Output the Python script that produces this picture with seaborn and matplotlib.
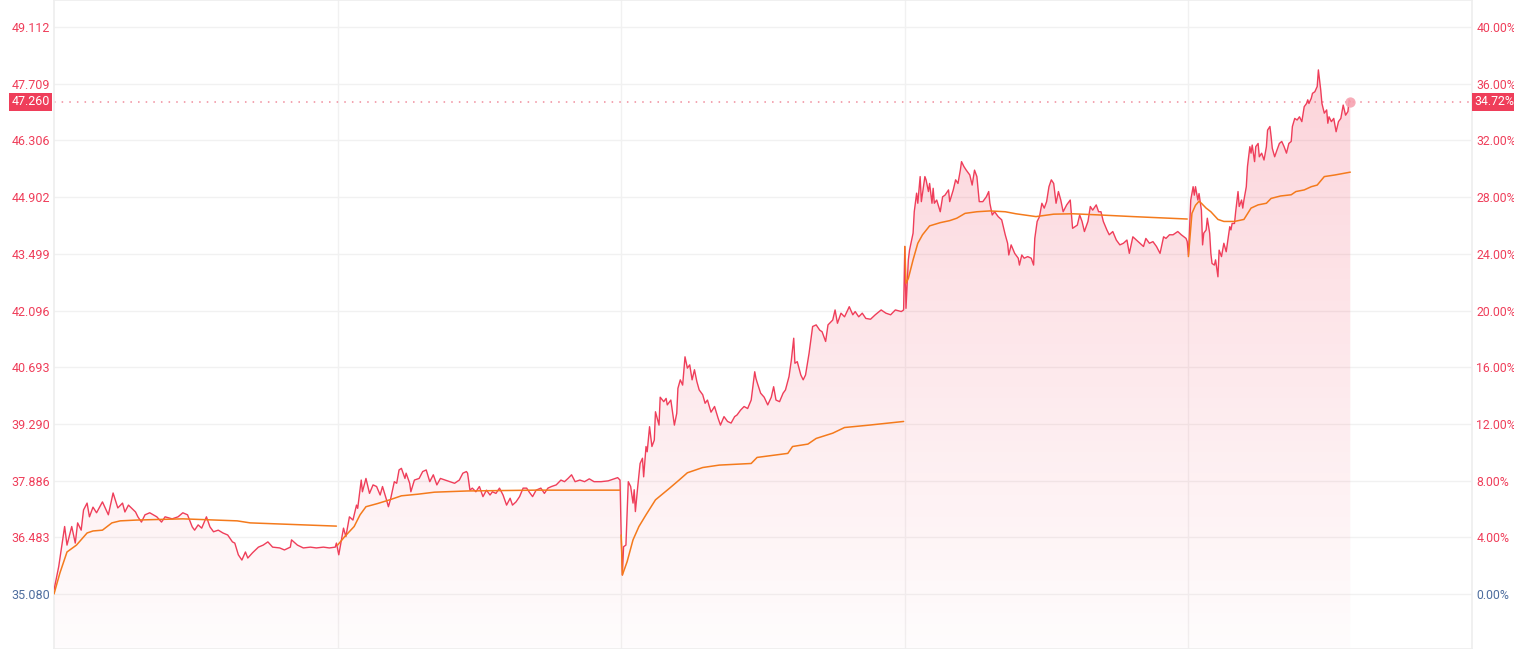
import numpy as np
import pandas as pd
import matplotlib.pyplot as plt
import seaborn as sns
from matplotlib.patches import Polygon
from matplotlib.transforms import blended_transform_factory

# intraday price, (minute of session, price) - 5 sessions
day1_price = [(0, 35.18), (4, 35.76), (9, 36.75), (11, 36.29), (15, 36.75), (18, 36.34), (20, 36.84), (23, 36.66),
              (25, 37.16), (28, 37.33), (30, 36.99), (33, 37.23), (36, 37.09), (41, 37.36), (46, 37.04), (50, 37.58),
              (54, 37.21), (58, 37.33), (60, 37.11), (63, 37.28), (69, 37.11), (71, 36.99), (74, 36.86), (77, 37.04),
              (81, 37.09), (87, 36.99), (91, 36.86), (94, 36.99), (100, 36.94), (105, 36.99), (109, 37.09),
              (113, 37.04), (117, 36.74), (119, 36.66), (122, 36.79), (125, 36.71), (129, 36.99), (132, 36.74),
              (135, 36.62), (139, 36.66), (143, 36.59), (147, 36.54), (151, 36.37), (153, 36.34), (156, 36.05),
              (159, 35.92), (162, 36.12), (164, 35.97), (168, 36.10), (173, 36.24), (177, 36.29), (181, 36.37),
              (185, 36.24), (191, 36.22), (195, 36.17), (200, 36.24), (201, 36.42), (206, 36.29), (211, 36.22),
              (217, 36.24), (222, 36.22), (228, 36.24), (233, 36.22), (238, 36.24), (239, 36.34)]
day2_price = [(0, 36.20), (1, 36.05), (5, 36.71), (7, 36.50), (10, 36.99), (13, 36.91), (16, 37.28), (17, 37.20),
              (20, 37.90), (21, 37.61), (24, 37.94), (27, 37.57), (30, 37.78), (33, 37.74), (36, 37.53), (38, 37.74),
              (41, 37.45), (43, 37.24), (45, 37.45), (48, 37.86), (50, 37.82), (52, 38.15), (54, 38.19), (57, 37.94),
              (58, 38.07), (61, 37.82), (62, 37.61), (65, 37.90), (69, 37.94), (72, 38.11), (75, 38.15), (78, 37.86),
              (81, 38.03), (84, 37.78), (87, 37.94), (91, 37.90), (95, 37.86), (99, 37.82), (103, 37.90),
              (106, 38.07), (109, 38.11), (110, 38.07), (112, 37.65), (114, 37.70), (117, 37.61), (120, 37.74),
              (123, 37.49), (126, 37.65), (129, 37.53), (131, 37.61), (134, 37.57), (137, 37.70), (140, 37.53),
              (143, 37.28), (146, 37.45), (148, 37.28), (151, 37.36), (154, 37.49), (157, 37.70), (160, 37.70),
              (162, 37.61), (165, 37.49), (168, 37.65), (172, 37.70), (175, 37.57), (178, 37.70), (181, 37.74),
              (185, 37.78), (189, 37.90), (192, 37.86), (195, 37.94), (198, 38.03), (201, 37.86), (205, 37.90),
              (209, 37.86), (213, 37.93), (217, 37.86), (223, 37.86), (229, 37.88), (234, 37.93), (237, 37.96),
              (239, 37.90)]
day3_price = [(0, 36.54), (1, 35.55), (2, 36.25), (4, 36.29), (6, 37.86), (8, 37.74), (10, 37.33), (11, 37.66),
              (12, 37.12), (14, 37.74), (16, 38.31), (18, 38.44), (19, 37.98), (21, 38.73), (22, 38.60), (24, 39.22),
              (26, 38.73), (28, 38.89), (29, 39.59), (32, 39.26), (33, 39.95), (36, 39.84), (38, 39.92), (39, 39.76),
              (42, 39.88), (45, 39.26), (47, 39.55), (48, 40.17), (50, 40.38), (52, 40.25), (54, 40.95), (56, 40.67),
              (58, 40.75), (60, 40.38), (62, 40.63), (64, 40.34), (66, 40.13), (69, 40.01), (71, 39.80), (73, 39.88),
              (76, 39.58), (79, 39.72), (82, 39.43), (84, 39.26), (87, 39.47), (90, 39.35), (93, 39.31), (96, 39.47),
              (98, 39.51), (101, 39.63), (104, 39.72), (107, 39.67), (110, 39.88), (113, 40.58), (114, 40.42),
              (115, 40.32), (118, 40.05), (121, 39.95), (124, 39.76), (127, 39.95), (129, 40.21), (131, 39.88),
              (134, 39.84), (137, 40.05), (139, 40.13), (142, 40.46), (144, 40.87), (146, 41.41), (147, 40.79),
              (149, 40.83), (152, 40.50), (154, 40.38), (156, 40.50), (159, 41.04), (162, 41.70), (165, 41.74),
              (168, 41.61), (170, 41.57), (173, 41.33), (175, 41.74), (179, 41.86), (181, 42.11), (183, 41.78),
              (186, 42.03), (189, 41.94), (193, 42.19), (196, 41.99), (198, 42.07), (201, 41.94), (204, 42.03),
              (207, 41.90), (211, 41.88), (215, 41.99), (220, 42.11), (224, 42.03), (228, 41.99), (232, 42.11),
              (237, 42.07), (239, 42.11)]
day4_price = [(0, 43.68), (1, 42.15), (3, 43.35), (4, 43.59), (7, 44.01), (8, 44.54), (10, 45.00), (11, 44.75),
              (13, 45.41), (14, 44.79), (15, 45.00), (17, 45.41), (18, 45.33), (20, 45.04), (21, 45.24), (23, 44.75),
              (24, 45.12), (25, 44.75), (27, 44.83), (30, 44.54), (32, 44.91), (34, 44.95), (37, 45.08), (38, 44.79),
              (41, 45.08), (43, 45.33), (45, 45.24), (47, 45.57), (48, 45.78), (50, 45.66), (52, 45.57), (55, 45.45),
              (57, 45.20), (59, 45.57), (61, 45.41), (63, 44.79), (66, 44.79), (69, 44.91), (71, 45.04), (72, 44.75),
              (74, 44.46), (76, 44.54), (79, 44.42), (82, 44.34), (85, 43.97), (87, 43.76), (88, 43.47), (90, 43.72),
              (93, 43.51), (96, 43.39), (97, 43.22), (99, 43.47), (101, 43.39), (104, 43.43), (107, 43.39),
              (109, 43.22), (110, 43.88), (112, 44.30), (114, 44.42), (116, 44.75), (118, 44.63), (120, 44.79),
              (122, 45.16), (124, 45.33), (126, 45.24), (128, 44.75), (130, 45.04), (132, 44.83), (134, 44.54),
              (137, 44.71), (140, 44.83), (142, 44.13), (144, 44.17), (146, 44.21), (148, 44.46), (150, 44.30),
              (152, 44.05), (155, 44.30), (157, 44.67), (159, 44.58), (162, 44.71), (164, 44.54), (166, 44.54),
              (168, 44.30), (171, 44.09), (173, 43.97), (176, 44.05), (179, 43.84), (182, 43.72), (185, 43.76),
              (188, 43.84), (190, 43.51), (193, 43.92), (196, 43.84), (199, 43.76), (202, 43.68), (204, 43.88),
              (207, 43.76), (210, 43.80), (213, 43.68), (216, 43.51), (219, 43.92), (221, 43.88), (224, 43.97),
              (227, 43.97), (231, 44.05), (234, 43.97), (238, 43.88), (239, 43.80)]
day5_price = [(0, 43.47), (2, 44.83), (4, 45.16), (5, 44.95), (6, 45.16), (8, 44.83), (9, 44.99), (11, 44.58),
              (12, 43.72), (13, 44.01), (15, 44.09), (16, 44.38), (18, 44.01), (19, 43.51), (20, 43.26), (22, 43.22),
              (23, 43.35), (25, 42.93), (26, 43.59), (28, 43.43), (29, 43.59), (30, 43.76), (32, 43.55), (33, 43.76),
              (35, 44.17), (36, 44.09), (37, 44.25), (39, 44.25), (40, 44.54), (42, 45.04), (43, 44.67), (45, 44.83),
              (46, 44.63), (47, 44.83), (49, 45.16), (50, 45.66), (52, 46.15), (53, 45.99), (54, 46.19), (56, 45.78),
              (57, 46.15), (59, 46.23), (60, 45.90), (62, 45.99), (64, 45.82), (66, 46.15), (67, 46.56), (69, 46.65),
              (70, 46.40), (71, 46.11), (73, 45.90), (75, 46.07), (77, 46.23), (79, 46.28), (81, 46.15), (83, 45.99),
              (85, 46.23), (87, 46.28), (88, 46.65), (90, 46.85), (92, 46.81), (94, 46.89), (96, 46.77), (98, 47.14),
              (100, 47.22), (101, 47.31), (102, 47.22), (104, 47.35), (105, 47.47), (107, 47.51), (109, 47.64),
              (110, 48.05), (112, 47.55), (113, 47.22), (115, 46.98), (117, 47.06), (118, 46.73), (119, 46.89),
              (121, 46.77), (123, 46.85), (125, 46.52), (127, 46.77), (129, 46.85), (131, 47.18), (133, 46.93),
              (135, 47.02), (136, 47.31), (137, 47.26)]

# average price line per session
day1_avg = [(0, 35.08), (5, 35.60), (11, 36.12), (19, 36.29), (28, 36.59), (33, 36.64), (41, 36.66), (49, 36.84),
            (56, 36.89), (70, 36.91), (109, 36.94), (155, 36.89), (166, 36.84), (239, 36.76)]
day2_avg = [(0, 36.29), (6, 36.50), (14, 36.75), (19, 37.04), (24, 37.24), (34, 37.32), (44, 37.41), (54, 37.51),
            (68, 37.55), (82, 37.60), (110, 37.63), (167, 37.65), (239, 37.65)]
day3_avg = [(0, 36.54), (1, 35.55), (5, 35.88), (10, 36.42), (15, 36.75), (21, 37.04), (29, 37.41), (41, 37.70),
            (49, 37.90), (56, 38.08), (69, 38.21), (83, 38.27), (110, 38.31), (115, 38.46), (141, 38.56),
            (145, 38.73), (158, 38.79), (165, 38.93), (179, 39.06), (189, 39.20), (210, 39.26), (239, 39.35)]
day4_avg = [(0, 43.68), (1, 42.77), (3, 42.89), (7, 43.35), (11, 43.76), (15, 43.97), (21, 44.19), (30, 44.27),
            (38, 44.32), (44, 44.38), (51, 44.50), (61, 44.54), (72, 44.56), (85, 44.54), (94, 44.49), (111, 44.42),
            (126, 44.48), (142, 44.49), (165, 44.46), (193, 44.42), (239, 44.36)]
day5_avg = [(0, 43.43), (3, 44.50), (6, 44.70), (9, 44.80), (11, 44.75), (15, 44.63), (19, 44.54), (25, 44.35),
            (30, 44.30), (39, 44.30), (47, 44.35), (53, 44.63), (59, 44.71), (66, 44.75), (70, 44.87), (78, 44.93),
            (87, 44.96), (91, 45.04), (98, 45.08), (104, 45.16), (109, 45.20), (115, 45.41), (124, 45.45),
            (137, 45.52)]

base_price = 35.08
last_price = 47.26
price_ticks = ['35.080', '36.483', '37.886', '39.290', '40.693', '42.096', '43.499', '44.902', '46.306', '47.709', '49.112']
pct_ticks = ['0.00%', '4.00%', '8.00%', '12.00%', '16.00%', '20.00%', '24.00%', '28.00%', '32.00%', '36.00%', '40.00%']

RED = '#ef3e5a'
ORANGE = '#f47a1c'
BLUE = '#4e6d9e'
GRID = '#f1f1f1'

sns.set_theme(style='white')
plt.rcParams['font.family'] = ['Roboto', 'DejaVu Sans']

# build frames, minutes offset by session (240 per session)
days_p = [day1_price, day2_price, day3_price, day4_price, day5_price]
days_a = [day1_avg, day2_avg, day3_avg, day4_avg, day5_avg]
price_df = pd.concat([pd.DataFrame(d, columns=['m', 'p']).assign(day=i) for i, d in enumerate(days_p)])
price_df['x'] = price_df['day'] * 240 + price_df['m']
avg_df = pd.concat([pd.DataFrame(d, columns=['m', 'p']).assign(day=i) for i, d in enumerate(days_a)])
avg_df['x'] = avg_df['day'] * 240 + avg_df['m']

fig = plt.figure(figsize=(15.14, 6.49), dpi=100)
ax = fig.add_axes([54 / 1514, 0, (1472 - 54) / 1514, 1])

step = 0.04 * base_price
ytop = base_price + 594 / 56.7 * step
ybot = base_price - 55 / 56.7 * step

# gradient fill under the price line
xs = price_df['x'].values
ys = price_df['p'].values
verts = [(xs[0], ybot)] + list(zip(xs, ys)) + [(xs[-1], ybot)]
poly = Polygon(verts, closed=True, fc='none', ec='none')
ax.add_patch(poly)
alpha = np.linspace(0.25, 0.015, 256)
grad = np.zeros((256, 1, 4))
grad[:, 0, 0] = 0.95
grad[:, 0, 1] = 0.25
grad[:, 0, 2] = 0.36
grad[:, 0, 3] = alpha
im = ax.imshow(grad, extent=[0, 1200, ybot, ytop], aspect='auto', origin='upper', zorder=1)
im.set_clip_path(poly)

sns.lineplot(data=price_df, x='x', y='p', ax=ax, color=RED, lw=1.0, sort=False, estimator=None, zorder=3)
sns.lineplot(data=avg_df, x='x', y='p', units='day', estimator=None, ax=ax, color=ORANGE, lw=1.1, sort=False, zorder=4)

# day separators
for d in [240, 480, 720, 960]:
    ax.axvline(d, color=GRID, lw=1, zorder=0)

ax.axhline(last_price, color='#f08b9b', lw=1.1, ls=(0, (1, 4)), zorder=2)
ax.scatter([xs[-1]], [last_price], s=55, color='#f7a3b1', alpha=0.9, zorder=5, lw=0)

ax.set_xlim(0, 1200)
ax.set_ylim(ybot, ytop)
ax.set_xlabel('')
ax.set_ylabel('')
ax.set_xticks([])
tick_vals = [float(t) for t in price_ticks]
ax.set_yticks(tick_vals)
ax.set_yticklabels(price_ticks)
ax.tick_params(axis='y', length=0, pad=3, labelsize=9)
for i, lab in enumerate(ax.get_yticklabels()):
    lab.set_color(BLUE if i == 0 else RED)
ax.grid(axis='y', color=GRID, lw=1)
for s in ax.spines.values():
    s.set_color('#eeeeee')

ax2 = ax.twinx()
ax2.set_ylim(ybot, ytop)
ax2.set_yticks(tick_vals)
ax2.set_yticklabels(pct_ticks)
ax2.tick_params(axis='y', length=0, pad=3, labelsize=8.8)
for i, lab in enumerate(ax2.get_yticklabels()):
    lab.set_color(BLUE if i == 0 else RED)
for s in ax2.spines.values():
    s.set_visible(False)

# current price tags
tr = blended_transform_factory(ax.transAxes, ax.transData)
ax.text(-0.003, last_price, f'{last_price:.3f}', transform=tr, ha='right', va='center', color='white',
        fontsize=9, zorder=6, clip_on=False,
        bbox=dict(boxstyle='square,pad=0.22', fc=RED, ec='none'))
ax.text(1.002, last_price, f'{(last_price / base_price - 1) * 100:.2f}%', transform=tr, ha='left', va='center',
        color='white', fontsize=8.8, zorder=6, clip_on=False,
        bbox=dict(boxstyle='square,pad=0.22', fc=RED, ec='none'))

fig.savefig('out.png', dpi=100)
